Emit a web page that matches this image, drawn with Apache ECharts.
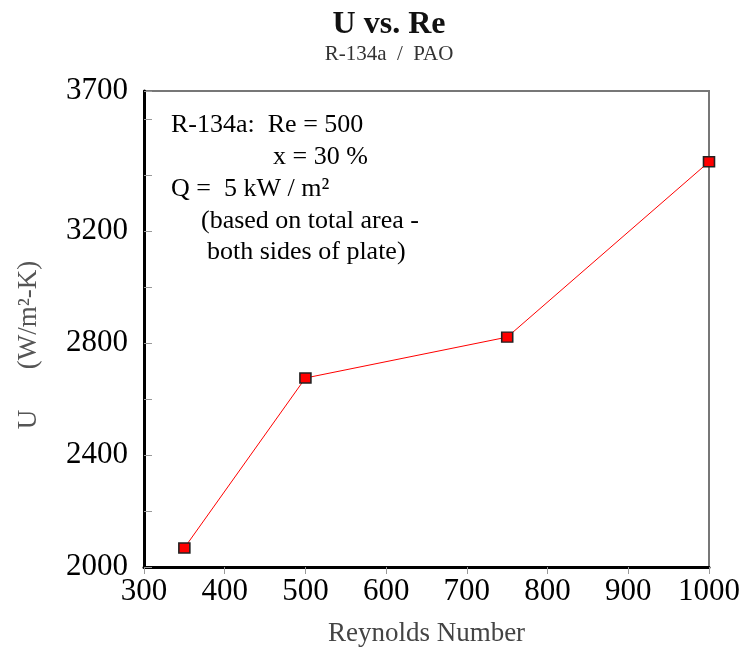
<!DOCTYPE html>
<html>
<head>
<meta charset="utf-8">
<script src="https://cdn.jsdelivr.net/npm/echarts@6/dist/echarts.min.js"></script>
<style>
  html, body { margin: 0; padding: 0; background: #fff; }
  #main { width: 739px; height: 655px; }
</style>
</head>
<body>
<div id="main"></div>
<script>
var reynolds = [350, 500, 750, 1000];
var uValues = [2068, 2675, 2821, 3447];
var yLabels = [2000, 2400, 2800, 3200, 3700];
var noteLines = [
    ['R-134a:  Re = 500', 171, 125],
    ['x = 30 %', 273, 157],
    ['Q =  5 kW / m\u00b2', 171, 189],
    ['(based on total area -', 201, 221],
    ['both sides of plate)', 207, 252]
];

var serif = '"Liberation Serif", "Times New Roman", serif';
var myChart = echarts.init(document.getElementById('main'));

var option = {
    backgroundColor: '#fff',
    animation: false,
    title: {
        text: 'U vs. Re',
        subtext: 'R-134a  /  PAO',
        left: 384,
        textAlign: 'center',
        top: 4,
        itemGap: 3,
        textStyle: { fontFamily: serif, fontSize: 32, fontWeight: 'bold', color: '#111' },
        subtextStyle: { fontFamily: serif, fontSize: 21, color: '#333' }
    },
    grid: {
        left: 144,
        right: 30,
        top: 91,
        bottom: 88,
        outerBoundsMode: 'none',
        containLabel: false,
        show: true,
        borderColor: '#777',
        borderWidth: 2
    },
    xAxis: {
        type: 'value',
        min: 300,
        max: 1000,
        interval: 100,
        name: 'Reynolds Number',
        nameLocation: 'middle',
        nameGap: 53,
        nameTextStyle: { fontFamily: serif, fontSize: 27, color: '#444' },
        axisLine: { lineStyle: { color: '#000', width: 3 } },
        axisTick: { show: true, inside: false, length: 7, lineStyle: { color: '#999', width: 1 } },
        axisLabel: {
            fontFamily: serif, fontSize: 31, color: '#000', margin: 9,
            formatter: function (v) { return String(v); }
        },
        splitLine: { show: false }
    },
    yAxis: {
        type: 'value',
        min: 2000,
        max: 3700,
        interval: 200,
        axisLine: { show: true, lineStyle: { color: '#000', width: 3 } },
        axisTick: { show: true, inside: true, length: 8, lineStyle: { color: '#999', width: 1 } },
        axisLabel: {
            fontFamily: serif,
            fontSize: 31,
            color: '#000',
            margin: 16,
            showMaxLabel: true,
            formatter: function (v) {
                return yLabels.indexOf(v) >= 0 ? String(v) : '';
            }
        },
        splitLine: { show: false }
    },
    graphic: noteLines.map(function (l) {
        return {
            type: 'text',
            left: l[1],
            top: l[2] - 13,
            z: 10,
            style: {
                text: l[0],
                font: '26px ' + serif,
                fill: '#000'
            }
        };
    }).concat([{
        // y axis title, rotated
        type: 'text',
        x: 29,
        y: 345,
        rotation: Math.PI / 2,
        style: {
            text: 'U      (W/m\u00b2-K)',
            font: '27px ' + serif,
            fill: '#555',
            align: 'center',
            verticalAlign: 'middle'
        }
    }]),
    series: [{
        type: 'line',
        data: reynolds.map(function (r, i) { return [r, uValues[i]]; }),
        symbol: 'rect',
        symbolSize: [11, 10],
        lineStyle: { color: '#f00', width: 1 },
        itemStyle: { color: '#f00', borderColor: '#222', borderWidth: 1.5 },
        clip: false,
        z: 5
    }]
};
myChart.setOption(option);
</script>
</body>
</html>
